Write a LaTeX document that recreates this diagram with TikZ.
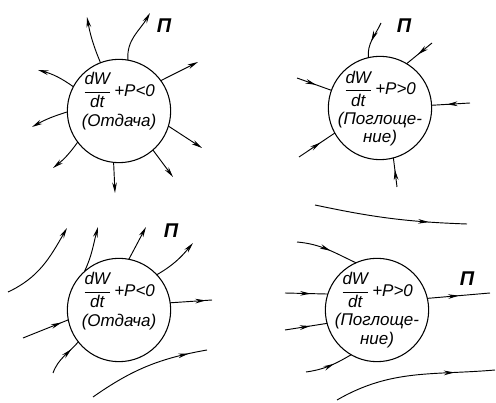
\documentclass[tikz,border=0pt]{standalone}
\usepackage{fontspec}
\setmainfont{Liberation Sans}
\usetikzlibrary{arrows.meta,decorations.markings}
\tikzset{
  ball/.style={draw, circle, minimum size=3.1cm, inner sep=0pt, outer sep=0pt, line width=0.9pt},
  txt/.style={align=center, inner sep=0pt, font=\fontsize{14.5}{15.5}\selectfont\itshape},
  pn/.style={font=\fontsize{17}{17}\selectfont\bfseries\itshape},
  flux/.style={line width=0.8pt},
  arrow/.style={flux, -{Stealth[length=9pt,width=4pt]}},
  midarrow/.style={flux, postaction={decorate},
    decoration={markings, mark=at position #1 with {\arrow{Stealth[length=9pt,width=4pt]}}}}
}
\newcommand{\dWdt}{\(\displaystyle\frac{\mbox{dW}}{\mbox{dt}}\)\,}

\begin{document}
\begin{tikzpicture}[x=0.03cm, y=-0.03cm]
  \useasboundingbox (0,0) rectangle (496,403);

  % top left: emission
  \node[ball] (c1) at (119,111) {};
  \node[txt] (t1) at ([yshift=0.3cm]c1.center) {\dWdt+P<0\\[4pt](Отдача)};
  \coordinate (p1a) at (87,17);
  \coordinate (p1b) at (150,13);
  \coordinate (p1c) at (198,62);
  \coordinate (p1d) at (38,70);
  \coordinate (p1e) at (32,127);
  \coordinate (p1f) at (202,148);
  \coordinate (p1g) at (53,168);
  \coordinate (p1h) at (115,193);
  \coordinate (p1i) at (173,177);
  \node[pn] (n1) at (164,26) {П};
  \draw[arrow] (c1.111) to[bend left=6] (p1a);
  \draw[arrow] (c1.80) to[out=95, in=240] (p1b);
  \draw[arrow] (c1.36) -- (p1c);
  \draw[arrow] (c1.152) to[bend right=10] (p1d);
  \draw[arrow] (c1.181) to[bend right=6] (p1e);
  \draw[arrow] (c1.343) -- (p1f);
  \draw[arrow] (c1.217) to[bend left=8] (p1g);
  \draw[arrow] (c1.264) -- (p1h);
  \draw[arrow] (c1.311) -- (p1i);

  % top right: absorption
  \node[ball] (c2) at (380,108) {};
  \node[txt] (t2) at ([yshift=-0.02cm]c2.center) {\dWdt+P>0\\[4pt](Поглоще-\\ние)};
  \coordinate (p2a) at (381,23);
  \coordinate (p2b) at (432,43);
  \coordinate (p2c) at (297,78);
  \coordinate (p2d) at (470,103);
  \coordinate (p2e) at (299,157);
  \coordinate (p2f) at (397,187);
  \node[pn] (n2) at (404,26) {П};
  \draw[midarrow=0.55] (p2a) to[out=245, in=95] (c2.103);
  \draw[midarrow=0.55] (p2b) -- (c2.59);
  \draw[midarrow=0.55] (p2c) -- (c2.160);
  \draw[midarrow=0.6] (p2d) -- (c2.3);
  \draw[midarrow=0.6] (p2e) -- (c2.209);
  \draw[midarrow=0.6] (p2f) -- (c2.285);

  % bottom left: emission in a flow
  \node[ball] (c3) at (119,310) {};
  \node[txt] (t3) at ([yshift=0.27cm]c3.center) {\dWdt+P<0\\[4pt](Отдача)};
  \coordinate (s3a) at (8,292);
  \coordinate (e3a) at (67,228);
  \coordinate (p3b) at (98,227);
  \coordinate (p3c) at (146,227);
  \coordinate (p3d) at (193,243);
  \coordinate (p3e) at (212,300);
  \coordinate (p3f) at (23,338);
  \coordinate (p3g) at (53,373);
  \coordinate (s3h) at (93,397);
  \coordinate (e3h) at (207,350);
  \node[pn] (n3) at (171,231) {П};
  \draw[arrow] (s3a) to[out=25, in=240] (e3a);
  \draw[arrow] (c3.132) to[out=65, in=255] (p3b);
  \draw[arrow] (c3.79) -- (p3c);
  \draw[arrow] (c3.43) to[out=30, in=230] (p3d);
  \draw[midarrow=0.85] (c3.8) -- (p3e);
  \draw[midarrow=0.85] (p3f) -- (c3.191);
  \draw[midarrow=0.75] (p3g) to[out=70, in=230] (c3.218);
  \draw[midarrow=0.85] (s3h) to[out=35, in=190] (e3h);

  % bottom right: absorption in a flow
  \node[ball] (c4) at (377,310) {};
  \node[txt] (t4) at ([yshift=0cm]c4.center) {\dWdt+P>0\\[4pt](Поглоще-\\ние)};
  \coordinate (s4a) at (315,205);
  \coordinate (e4a) at (467,224);
  \coordinate (p4b) at (297,242);
  \coordinate (p4c) at (285,293);
  \coordinate (p4d) at (285,330);
  \coordinate (p4e) at (306,372);
  \coordinate (p4f) at (490,293);
  \coordinate (s4g) at (337,400);
  \coordinate (e4g) at (495,370);
  \node[pn] (n4) at (467,279) {П};
  \draw[midarrow=0.75] (s4a) to[out=-12, in=178] (e4a);
  \draw[midarrow=0.55] (p4b) to[out=-5, in=155] (c4.114);
  \draw[midarrow=0.6] (p4c) -- (c4.162);
  \draw[midarrow=0.6] (p4d) -- (c4.195);
  \draw[midarrow=0.6] (p4e) to[out=8, in=210] (c4.240);
  \draw[midarrow=0.5] (c4.13) -- (p4f);
  \draw[midarrow=0.75] (s4g) to[out=30, in=185] (e4g);
\end{tikzpicture}
\end{document}
